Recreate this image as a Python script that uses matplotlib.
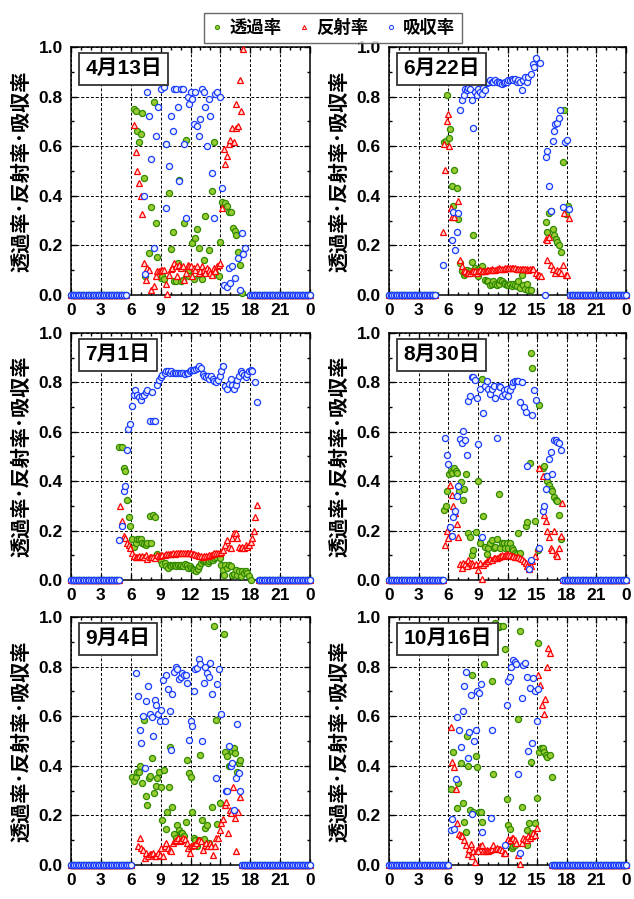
import matplotlib.pyplot as plt
import numpy as np
from matplotlib.lines import Line2D
from matplotlib.ticker import MultipleLocator

plt.rcParams['font.family'] = ['Liberation Sans', 'Noto Sans CJK JP']
plt.rcParams['font.weight'] = 'bold'

DATES = ['4月13日', '6月22日', '7月1日', '8月30日', '9月4日', '10月16日']
SERIES = ['透過率', '反射率', '吸収率']
XTICKS = [0, 3, 6, 9, 12, 15, 18, 21, 24]
XLABELS = ['0', '3', '6', '9', '12', '15', '18', '21', '0']

# hours where the night zeros stop (morning) and start again (evening)
SUNRISE = [5.6, 4.75, 4.87, 5.57, 6.15, 6.15]
SUNSET = [17.9, 18.2, 18.7, 17.6, 17.1, 16.5]

# (hour, value)
APR13_TR = [(6.3, .75), (6.5, .74), (6.65, .66), (6.8, .615), (7.0, .65), (7.15, .735), (7.3, .47),
            (7.48, .075), (7.8, .17), (8.0, .355), (8.3, .78), (8.5, .29), (8.65, .155), (9.0, .07),
            (9.1, .075), (9.3, .065), (9.5, .61), (9.8, .41), (10.0, .185), (10.2, .255), (10.35, .055),
            (10.5, .055), (10.7, .13), (10.85, .465), (11.0, .055), (11.2, .06), (11.3, .29), (11.5, .625),
            (11.7, .095), (11.85, .075), (12.2, .21), (12.35, .065), (12.5, .23), (12.7, .265), (12.85, .19),
            (13.0, .08), (13.2, .065), (13.35, .14), (13.5, .32), (13.85, .18), (14.2, .42), (14.35, .615),
            (14.5, .09), (14.85, .075), (15.0, .215), (15.2, .375), (15.5, .37), (15.7, .36), (15.9, .335),
            (16.1, .335), (16.3, .27), (16.5, .26), (16.6, .24), (16.8, .175), (17.0, .12), (17.2, .01)]
APR13_RE = [(6.3, .685), (6.5, .575), (6.65, .50), (6.8, .45), (7.0, .40), (7.15, .325), (7.3, .13),
            (7.5, .06), (7.65, .11), (7.8, .10), (8.0, .02), (8.3, .035), (8.5, .075), (8.65, .095),
            (8.85, .095), (9.0, .10), (9.15, .10), (9.3, .10), (9.5, .045), (9.65, .005), (9.8, .08),
            (10.0, .105), (10.15, .11), (10.3, .13), (10.5, .115), (10.65, .075), (10.8, .12), (11.0, .11),
            (11.2, .115), (11.35, .06), (11.5, .09), (11.7, .12), (11.85, .115), (12.0, .115), (12.2, .075),
            (12.35, .11), (12.5, .10), (12.7, .115), (12.85, .09), (13.0, .095), (13.2, .115), (13.35, .10),
            (13.5, .09), (13.7, .11), (13.85, .10), (14.0, .09), (14.2, .08), (14.35, .11), (14.5, .095),
            (14.7, .115), (14.85, .12), (15.0, .13), (15.2, .35), (15.35, .59), (15.5, .53), (15.7, .56),
            (15.85, .61), (16.0, .625), (16.2, .675), (16.35, .615), (16.55, .675), (16.6, .77), (16.8, .68),
            (17.0, .865), (17.1, .74), (17.3, .99)]
APR13_AB = [(7.38, .40), (7.48, .085), (7.65, .82), (7.8, .72), (7.99, .55), (8.3, .19), (8.5, .64),
            (8.7, .76), (9.0, .83), (9.3, .84), (9.5, .35), (9.5, .61), (9.8, .52), (10.0, .72), (10.2, .66),
            (10.3, .83), (10.5, .83), (10.7, .76), (10.85, .46), (11.0, .83), (11.2, .83), (11.3, .61),
            (11.5, .31), (11.7, .80), (11.8, .77), (12.0, .82), (12.2, .79), (12.35, .69), (12.5, .82),
            (12.65, .68), (12.85, .64), (13.0, .71), (13.2, .83), (13.35, .82), (13.5, .76), (13.7, .60),
            (13.85, .79), (14.0, .72), (14.2, .49), (14.35, .31), (14.5, .81), (14.7, .82), (15.0, .80),
            (15.2, .43), (15.35, .04), (15.7, .034), (15.9, .11), (16.0, .05), (16.2, .115), (16.5, .07),
            (16.8, .15), (16.95, .02), (17.2, .25), (17.3, .165), (17.5, .19)]

JUN22_TR = [(5.6, .615), (5.8, .62), (5.9, .805), (6.05, .635), (6.2, .67), (6.35, .44), (6.5, .36),
            (6.6, .505), (6.85, .43), (7.0, .305), (7.2, .13), (7.35, .095), (7.55, .08), (7.7, .09),
            (7.9, .10), (8.2, .095), (8.4, .135), (8.55, .24), (8.7, .11), (8.9, .10), (9.05, .075),
            (9.2, .11), (9.4, .115), (9.55, .095), (9.75, .06), (9.9, .055), (10.05, .055), (10.25, .04),
            (10.4, .045), (10.55, .055), (10.75, .045), (10.9, .04), (11.1, .045), (11.25, .06), (11.4, .055),
            (11.6, .05), (11.75, .045), (11.9, .04), (12.1, .04), (12.25, .045), (12.45, .035), (12.6, .045),
            (12.8, .04), (12.95, .035), (13.1, .055), (13.3, .03), (13.45, .08), (13.6, .04), (13.8, .025),
            (13.95, .045), (14.1, .02), (14.35, .02), (15.9, .295), (16.05, .255), (16.25, .33), (16.4, .34),
            (16.6, .265), (16.75, .24), (16.9, .225), (17.0, .215), (17.2, .20), (17.4, .175), (17.6, .535),
            (17.75, .745), (17.9, .325), (18.0, .345), (18.1, .36)]
JUN22_RE = [(5.45, .255), (5.55, .61), (5.65, .505), (5.85, .70), (5.95, .73), (6.1, .60), (6.3, .35),
            (6.4, .315), (6.6, .315), (7.0, .38), (7.2, .14), (7.35, .115), (7.55, .10), (7.7, .095),
            (7.9, .09), (8.05, .09), (8.2, .09), (8.4, .095), (8.55, .095), (8.7, .095), (8.9, .09),
            (9.05, .095), (9.2, .10), (9.4, .095), (9.55, .095), (9.7, .095), (9.9, .10), (10.05, .10),
            (10.25, .10), (10.4, .105), (10.55, .10), (10.75, .10), (10.9, .105), (11.1, .11), (11.25, .105),
            (11.4, .105), (11.6, .105), (11.75, .11), (11.9, .11), (12.1, .11), (12.25, .11), (12.45, .11),
            (12.6, .11), (12.8, .11), (12.95, .105), (13.1, .105), (13.3, .105), (13.45, .105), (13.6, .105),
            (13.8, .105), (13.95, .105), (14.1, .10), (14.3, .105), (14.45, .105), (14.6, .105), (14.9, .09),
            (15.05, .08), (15.2, .08), (15.35, .075), (15.9, .225), (16.05, .22), (16.25, .235), (16.05, .14),
            (16.45, .12), (16.65, .105), (16.8, .09), (17.0, .10), (17.2, .095), (17.4, .09), (17.6, .12),
            (17.75, .33), (17.9, .08), (18.05, .08), (18.2, .31)]
JUN22_AB = [(5.5, .12), (6.35, .22), (6.5, .335), (6.7, .18), (6.85, .255), (7.0, .33), (7.2, .745),
            (7.35, .785), (7.55, .805), (7.7, .83), (7.9, .825), (8.05, .835), (8.2, .83), (8.4, .785),
            (8.55, .675), (8.7, .82), (8.9, .805), (9.05, .83), (9.2, .82), (9.4, .81), (9.55, .835),
            (9.7, .825), (9.9, .855), (10.05, .86), (10.25, .865), (10.4, .86), (10.55, .86), (10.75, .865),
            (10.9, .86), (11.1, .86), (11.25, .855), (11.4, .85), (11.6, .855), (11.75, .86), (11.9, .86),
            (12.1, .865), (12.25, .865), (12.45, .87), (12.6, .865), (12.8, .87), (12.95, .86), (13.1, .865),
            (13.3, .86), (13.45, .825), (13.6, .865), (13.8, .88), (13.95, .86), (14.1, .88), (14.35, .89),
            (14.55, .93), (14.7, .92), (14.9, .955), (15.3, .935), (15.75, 0.0), (15.9, .555), (16.05, .58),
            (16.25, .44), (16.4, .34), (16.6, .62), (16.7, .66), (16.85, .69), (17.0, .695), (17.2, .715),
            (17.3, .745), (17.6, .355), (17.85, .615), (18.0, .625), (18.2, .345)]

JUL01_TR = [(4.87, .54), (5.1, .54), (5.3, .455), (5.45, .44), (5.65, .325), (5.8, .255), (5.94, .22),
            (6.15, .165), (6.3, .135), (6.5, .15), (6.65, .165), (6.8, .165), (7.0, .165), (7.15, .15),
            (7.3, .145), (7.5, .14), (7.6, .15), (7.9, .26), (8.05, .15), (8.2, .265), (8.4, .255),
            (8.6, .105), (8.8, .095), (9.0, .075), (9.15, .065), (9.4, .07), (9.55, .055), (9.7, .05),
            (9.9, .06), (10.05, .055), (10.25, .06), (10.4, .06), (10.55, .055), (10.75, .06), (10.9, .057),
            (11.05, .06), (11.25, .055), (11.4, .065), (11.6, .06), (11.75, .05), (11.9, .055), (12.1, .05),
            (12.25, .045), (12.4, .04), (12.6, .035), (12.75, .045), (12.9, .055), (13.1, .07), (13.25, .075),
            (13.4, .08), (13.6, .075), (13.75, .07), (13.9, .075), (14.1, .08), (14.25, .08), (14.4, .09),
            (14.6, .095), (14.95, .09), (15.1, .06), (15.25, .04), (15.35, .02), (15.5, .06), (15.7, .05),
            (15.9, .06), (16.05, .055), (16.2, .02), (16.4, .025), (16.55, .04), (16.7, .02), (16.9, .035),
            (17.05, .015), (17.2, .035), (17.4, .027), (17.55, .035), (17.7, .027), (17.9, .015), (18.05, 0.0)]
JUL01_RE = [(4.93, .30), (5.1, .24), (5.3, .18), (5.45, .17), (5.65, .15), (5.8, .14), (5.97, .13),
            (6.15, .11), (6.3, .097), (6.5, .095), (6.65, .095), (6.8, .097), (7.0, .092), (7.15, .097),
            (7.3, .095), (7.5, .10), (7.65, .084), (7.9, .092), (8.05, .095), (8.2, .092), (8.4, .088),
            (8.6, .10), (8.8, .097), (9.0, .10), (9.15, .10), (9.4, .10), (9.55, .104), (9.7, .105),
            (9.9, .105), (10.05, .105), (10.25, .108), (10.4, .105), (10.55, .108), (10.75, .11), (10.9, .108),
            (11.05, .108), (11.25, .108), (11.4, .108), (11.6, .11), (11.75, .108), (11.9, .108), (12.1, .108),
            (12.25, .105), (12.4, .104), (12.6, .10), (12.75, .10), (12.9, .097), (13.1, .097), (13.25, .095),
            (13.4, .097), (13.6, .097), (13.75, .097), (13.9, .10), (14.1, .10), (14.25, .105), (14.4, .108),
            (14.6, .108), (14.75, .108), (14.95, .11), (15.1, .115), (15.25, .12), (15.5, .14), (15.7, .16),
            (15.9, .135), (16.05, .13), (16.2, .17), (16.4, .19), (16.55, .19), (16.7, .17), (16.9, .135),
            (17.05, .13), (17.2, .135), (17.4, .13), (17.55, .14), (17.7, .132), (17.9, .14), (18.05, .155),
            (18.2, .17), (18.35, .20), (18.5, .255), (18.7, .305)]
JUL01_AB = [(4.87, .16), (5.1, .22), (5.3, .36), (5.45, .38), (5.6, .525), (5.77, .61), (5.94, .63),
            (6.1, .705), (6.3, .75), (6.45, .77), (6.65, .75), (6.8, .74), (7.0, .73), (7.15, .745),
            (7.3, .75), (7.5, .76), (7.65, .77), (7.9, .645), (8.1, .76), (8.2, .645), (8.4, .645),
            (8.6, .79), (8.8, .81), (9.0, .82), (9.15, .83), (9.4, .84), (9.55, .845), (9.7, .845),
            (9.9, .84), (10.05, .845), (10.25, .84), (10.4, .84), (10.55, .84), (10.75, .84), (10.9, .84),
            (11.05, .84), (11.25, .84), (11.4, .835), (11.6, .84), (11.75, .84), (11.9, .845), (12.1, .85),
            (12.25, .85), (12.4, .85), (12.6, .855), (12.75, .86), (12.9, .865), (13.1, .86), (13.25, .835),
            (13.4, .825), (13.6, .82), (13.75, .825), (13.9, .815), (14.1, .825), (14.25, .815), (14.4, .805),
            (14.6, .80), (14.75, .81), (14.95, .825), (15.1, .845), (15.25, .865), (15.5, .785), (15.7, .775),
            (15.9, .795), (16.05, .815), (16.2, .79), (16.4, .775), (16.55, .79), (16.7, .81), (16.9, .825),
            (17.05, .845), (17.2, .84), (17.4, .83), (17.55, .82), (17.7, .835), (17.9, .845), (18.05, .85),
            (18.2, .845), (18.5, .80), (18.7, .72)]

AUG30_TR = [(5.57, .285), (5.74, .30), (5.9, .36), (6.1, .43), (6.25, .44), (6.4, .435), (6.6, .455),
            (6.75, .44), (6.9, .435), (7.1, .36), (7.25, .395), (7.45, .325), (7.6, .37), (7.8, .43),
            (8.05, .19), (8.2, .175), (8.4, .10), (8.55, .12), (8.8, .195), (9.05, .40), (9.2, .15),
            (9.4, .815), (9.55, .26), (9.7, .135), (9.9, .105), (10.05, .13), (10.25, .15), (10.4, .16),
            (10.6, .13), (10.75, .135), (10.9, .165), (11.1, .35), (11.25, .13), (11.4, .15), (11.6, .15),
            (11.75, .13), (11.9, .15), (12.1, .13), (12.25, .15), (12.45, .13), (12.6, .12), (12.75, .11),
            (12.95, .105), (13.1, .19), (13.3, .108), (13.85, .22), (14.0, .235), (14.25, .475), (14.35, .92),
            (14.5, .86), (14.8, .24), (15.05, .12), (15.2, .71), (15.55, .455), (15.7, .46), (15.9, .42),
            (16.05, .40), (16.2, .385), (16.4, .37), (16.55, .36), (16.7, .335), (16.9, .325), (17.05, .32),
            (17.2, .265), (17.45, .165)]
AUG30_RE = [(5.67, .14), (5.85, .20), (6.0, .17), (6.2, .385), (6.35, .345), (6.5, .30), (6.7, .27),
            (6.85, .225), (7.0, .175), (7.2, .065), (7.35, .047), (7.5, .067), (7.7, .065), (7.85, .055),
            (8.05, .08), (8.2, .067), (8.4, .067), (8.55, .06), (8.8, .065), (9.05, .04), (9.2, .067),
            (9.4, .003), (9.55, .06), (9.7, .067), (9.9, .075), (10.05, .075), (10.25, .085), (10.4, .08),
            (10.6, .09), (10.75, .088), (10.9, .088), (11.1, .095), (11.25, .098), (11.4, .10), (11.6, .098),
            (11.75, .10), (11.9, .104), (12.1, .10), (12.25, .10), (12.45, .098), (12.6, .098), (12.75, .095),
            (12.95, .092), (13.1, .092), (13.3, .088), (13.45, .085), (13.7, .078), (13.85, .07), (14.0, .055),
            (14.2, .045), (14.35, .055), (14.5, .078), (14.8, .098), (15.05, .13), (15.2, .455), (15.55, .42),
            (15.7, .265), (15.9, .24), (16.05, .20), (16.2, .175), (16.4, .13), (16.55, .12), (16.7, .20),
            (16.9, .105), (17.05, .097), (17.2, .128), (17.4, .18), (17.55, .31)]
AUG30_AB = [(5.67, .575), (5.85, .505), (6.0, .47), (6.2, .215), (6.35, .18), (6.5, .255), (6.7, .28),
            (6.85, .34), (7.0, .38), (7.2, .57), (7.35, .555), (7.5, .605), (7.7, .565), (7.85, .505),
            (8.05, .725), (8.2, .745), (8.4, .82), (8.55, .82), (8.7, .81), (8.9, .735), (9.05, .55),
            (9.2, .775), (9.4, .175), (9.55, .675), (9.7, .785), (9.9, .805), (10.05, .775), (10.25, .755),
            (10.4, .775), (10.6, .785), (10.75, .735), (10.9, .575), (11.1, .785), (11.25, .78), (11.4, .745),
            (11.6, .77), (11.75, .755), (11.9, .775), (12.1, .745), (12.25, .77), (12.45, .785), (12.6, .80),
            (12.75, .805), (12.95, .805), (13.1, .805), (13.3, .72), (13.45, .80), (13.7, .70), (13.85, .68),
            (14.0, .46), (14.2, .045), (14.35, .08), (14.5, .67), (14.7, .77), (14.85, .73), (15.2, .13),
            (15.55, .28), (15.7, .30), (15.9, .37), (16.05, .42), (16.2, .49), (16.4, .52), (16.55, .43),
            (16.7, .565), (16.9, .565), (17.05, .56), (17.2, .555), (17.45, .525)]

SEP04_TR = [(6.15, .355), (6.3, .34), (6.5, .355), (6.65, .375), (6.8, .375), (6.95, .40), (7.15, .33),
            (7.3, .585), (7.5, .28), (7.65, .24), (7.8, .35), (7.95, .36), (8.15, .43), (8.3, .29), (8.5, .32),
            (8.65, .35), (8.8, .375), (9.0, .315), (9.15, .18), (9.3, .385), (9.5, .145), (9.65, .215),
            (9.8, .315), (9.95, .475), (10.15, .235), (10.3, .125), (10.5, .11), (10.65, .16), (10.85, .14),
            (11.0, .13), (11.15, .13), (11.35, .115), (11.5, .175), (11.65, .425), (11.85, .37), (12.0, .355),
            (12.15, .215), (12.35, .11), (12.5, .10), (12.7, .075), (12.85, .10), (13.0, .445), (13.2, .18),
            (13.35, .105), (13.5, .15), (13.7, .16), (13.85, .09), (14.2, .235), (14.35, .965), (14.55, .585),
            (14.7, .165), (14.95, .25), (15.35, .93), (15.5, .455), (15.65, .44), (15.85, .40), (16.0, .40),
            (16.15, .46), (16.35, .47), (16.5, .45), (16.65, .375), (16.85, .41), (17.0, .425)]
SEP04_RE = [(6.7, .075), (6.9, .11), (7.05, .07), (7.2, .06), (7.4, .03), (7.55, .05), (7.7, .035),
            (7.9, .045), (8.05, .045), (8.2, .05), (8.4, .035), (8.55, .035), (8.7, .05), (8.9, .04),
            (9.05, .07), (9.2, .035), (9.4, .075), (9.55, .09), (9.7, .07), (9.9, .06), (10.05, .055),
            (10.25, .09), (10.4, .095), (10.55, .10), (10.75, .11), (10.9, .095), (11.05, .10), (11.25, .11),
            (11.4, .105), (11.6, .09), (11.75, .07), (11.9, .05), (12.1, .075), (12.25, .08), (12.4, .08),
            (12.6, .09), (12.75, .10), (12.9, .10), (13.1, .095), (13.25, .06), (13.45, .08), (13.6, .09),
            (13.75, .075), (13.95, .09), (14.1, .077), (14.25, .04), (14.45, .075), (14.6, .11), (14.8, .11),
            (14.95, .14), (15.1, .17), (15.3, .185), (15.45, .24), (15.6, .255), (15.8, .13), (15.95, .22),
            (16.1, .21), (16.3, .315), (16.45, .19), (16.6, .055), (16.8, .215), (16.95, .275)]
SEP04_AB = [(6.55, .775), (6.7, .68), (6.9, .545), (7.05, .49), (7.2, .60), (7.4, .39), (7.55, .66),
            (7.7, .72), (7.95, .61), (8.1, .595), (8.2, .52), (8.4, .665), (8.55, .645), (8.7, .61),
            (8.9, .58), (9.05, .625), (9.2, .745), (9.4, .58), (9.55, .765), (9.7, .71), (9.9, .62),
            (10.0, .465), (10.15, .69), (10.3, .78), (10.5, .80), (10.65, .79), (10.85, .75), (11.0, .76),
            (11.15, .775), (11.35, .765), (11.5, .765), (11.65, .735), (11.85, .505), (12.0, .58), (12.2, .56),
            (12.35, .70), (12.5, .79), (12.7, .795), (12.85, .83), (13.0, .81), (13.2, .50), (13.35, .735),
            (13.5, .80), (13.7, .775), (13.85, .76), (14.0, .815), (14.2, .69), (14.55, .35), (14.7, .73),
            (14.85, .79), (15.05, .61), (15.6, .30), (15.7, .30), (15.9, .48), (16.05, .40), (16.2, .41),
            (16.4, .22), (16.55, .35), (16.7, .57), (16.85, .37), (17.0, .30)]

OCT16_TR = [(6.25, .305), (6.5, .455), (6.85, .23), (7.0, .33), (7.25, .41), (7.45, .25), (7.6, .175),
            (7.75, .135), (7.88, .52), (8.05, .40), (8.2, .22), (8.4, .765), (8.55, .215), (8.8, .44),
            (8.95, .395), (9.1, .215), (9.3, .215), (9.45, .175), (9.6, .81), (10.4, .74), (10.55, .365),
            (10.75, .975), (10.9, .965), (11.1, .96), (11.25, .965), (11.5, .965), (11.75, .87), (11.9, .265),
            (12.1, .16), (12.25, .145), (12.45, .07), (12.6, .075), (12.75, .08), (13.1, .59), (13.25, .945),
            (13.45, .235), (13.95, .14), (14.0, .08), (14.2, .17), (14.35, .415), (14.5, .13), (14.8, .17),
            (14.95, .27), (15.1, .895), (15.2, .455), (15.35, .47), (15.55, .47), (15.7, .455), (15.9, .445),
            (16.05, .435), (16.3, .445), (16.5, .355)]
OCT16_RE = [(6.25, .555), (6.4, .415), (6.6, .395), (6.75, .305), (6.9, .17), (7.1, .125), (7.25, .12),
            (7.4, .115), (7.6, .10), (7.75, .08), (7.95, .045), (8.1, .065), (8.3, .085), (8.4, .035),
            (8.55, .055), (8.7, .013), (8.9, .06), (9.05, .055), (9.2, .075), (9.4, .08), (9.55, .055),
            (9.7, .055), (9.9, .06), (10.05, .055), (10.25, .06), (10.4, .065), (10.55, .08), (10.75, .065),
            (10.9, .07), (11.1, .065), (11.25, .063), (11.4, .06), (11.6, .05), (11.75, .047), (11.9, .095),
            (12.1, .105), (12.25, .10), (12.45, .11), (12.6, .11), (12.75, .10), (12.9, .09), (13.1, .04),
            (13.25, .005), (13.45, .09), (13.6, .11), (13.8, .105), (13.95, .10), (14.1, .115), (14.3, .11),
            (14.45, .115), (14.6, .13), (14.8, .12), (14.95, .15), (15.1, .765), (15.3, .725), (15.45, .645),
            (15.65, .61), (15.8, .67), (15.95, .80), (16.15, .875), (16.3, .855)]
OCT16_AB = [(6.25, .14), (6.4, .185), (6.6, .145), (6.75, .345), (6.9, .595), (7.1, .545), (7.25, .475),
            (7.45, .62), (7.6, .72), (7.75, .78), (7.95, .43), (8.1, .535), (8.3, .685), (8.45, .205),
            (8.6, .50), (8.8, .545), (8.95, .70), (9.1, .695), (9.3, .73), (9.45, .135), (10.3, .19),
            (10.45, .545), (11.75, .08), (11.9, .645), (12.05, .74), (12.25, .76), (12.4, .80), (12.6, .825),
            (12.75, .82), (12.9, .81), (13.1, .365), (13.25, .05), (13.45, .675), (13.6, .805), (13.8, .815),
            (13.95, .76), (14.1, .46), (14.3, .715), (14.45, .49), (14.6, .755), (14.8, .70), (14.95, .58),
            (15.1, .71)]

TRANS = [APR13_TR, JUN22_TR, JUL01_TR, AUG30_TR, SEP04_TR, OCT16_TR]
REFL = [APR13_RE, JUN22_RE, JUL01_RE, AUG30_RE, SEP04_RE, OCT16_RE]
ABSO = [APR13_AB, JUN22_AB, JUL01_AB, AUG30_AB, SEP04_AB, OCT16_AB]

STYLES = [
    dict(marker='o', ms=4.4, mfc='#99cc33', mec='#2f8a00', mew=0.9),
    dict(marker='^', ms=4.4, mfc='#ffe0e0', mec='#ff0000', mew=0.9),
    dict(marker='o', ms=4.4, mfc='#eef2ff', mec='#1a3cff', mew=0.9),
]

W, H = 634, 899
fig = plt.figure(figsize=(W / 100, H / 100), dpi=100)

lefts = [71, 389]
rights = [310, 626]
tops = [47, 333, 617]
bottoms = [295, 580, 865]
ylab = '透過率･反射率･吸収率'

for i, date in enumerate(DATES):
    r, c = divmod(i, 2)
    ax = fig.add_axes([lefts[c] / W, 1 - bottoms[r] / H,
                       (rights[c] - lefts[c]) / W, (bottoms[r] - tops[r]) / H])
    ax.set_xlim(0, 24)
    ax.set_ylim(0, 1)
    ax.set_xticks(XTICKS)
    ax.set_xticklabels(XLABELS)
    ax.xaxis.set_minor_locator(MultipleLocator(1))
    ax.set_yticks(np.arange(0, 1.01, 0.2))
    ax.set_yticklabels([f'{v:.1f}' for v in np.arange(0, 1.01, 0.2)])
    ax.yaxis.set_minor_locator(MultipleLocator(0.1))
    ax.tick_params(which='both', direction='in', top=True, right=True, labelsize=12.5, width=1)
    ax.tick_params(which='major', length=4)
    ax.tick_params(which='minor', length=2.5)
    ax.tick_params(axis='x', pad=6)
    ax.tick_params(axis='y', pad=6)
    for lab in ax.get_xticklabels() + ax.get_yticklabels():
        lab.set_fontweight('bold')
    for sp in ax.spines.values():
        sp.set_linewidth(1.1)
    ax.grid(True, which='major', color='black', linestyle=(0, (3, 2)), linewidth=0.7)

    night = np.concatenate([np.arange(0, SUNRISE[i] + 1e-6, 1 / 6),
                            np.arange(24, SUNSET[i] - 1e-6, -1 / 6)[::-1]])
    for data, st in zip([TRANS[i], REFL[i], ABSO[i]], STYLES):
        t = [p[0] for p in data]
        v = [p[1] for p in data]
        ax.plot(night, np.zeros_like(night), ls='none', clip_on=False, zorder=3, **st)
        ax.plot(t, v, ls='none', clip_on=False, zorder=3, **st)

    ax.text(0.06, 0.95, date, transform=ax.transAxes, ha='left', va='top',
            fontsize=15, fontweight='bold', family=['Liberation Sans', 'Noto Sans CJK JP'],
            bbox=dict(boxstyle='square,pad=0.3', fc='white', ec='#333333', lw=1.3), zorder=5)

    fig.text((lefts[c] - 50) / W, 1 - (tops[r] + bottoms[r]) / 2 / H, ylab, rotation=90,
             ha='center', va='center', fontsize=14.5, fontweight='bold',
             family=['Noto Sans CJK JP', 'DejaVu Sans'])

handles = [Line2D([], [], ls='none', marker=st['marker'], ms=3.0, mfc=st['mfc'],
                  mec=st['mec'], mew=0.7) for st in STYLES]
leg = fig.legend(handles, SERIES, loc='upper center', bbox_to_anchor=(333 / W, 1 - 4 / H),
                 ncol=3, frameon=True, fancybox=False, edgecolor='#444444', handlelength=0.8,
                 handletextpad=0.3, columnspacing=0.9, borderpad=0.35,
                 prop=dict(family='Noto Sans CJK JP', weight='bold', size=12.5))
leg.get_frame().set_linewidth(1.0)

fig.savefig('out.png', dpi=100)
